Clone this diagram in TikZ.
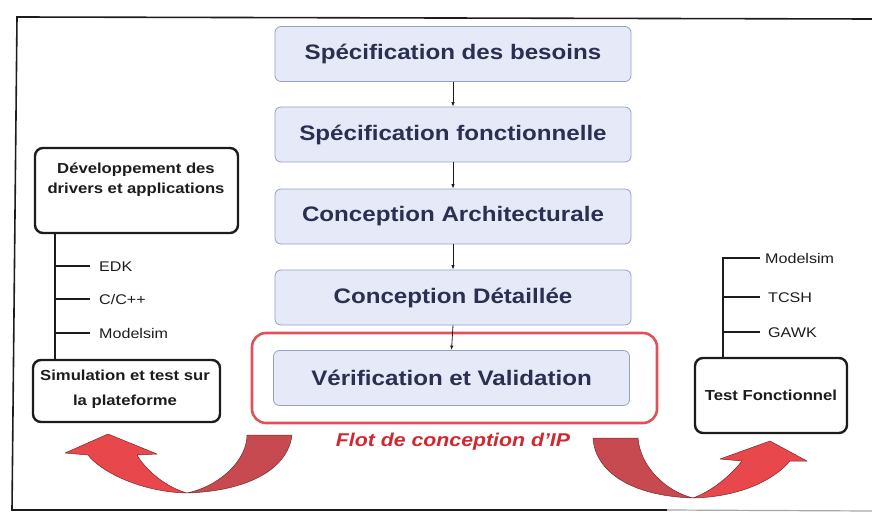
\documentclass[tikz,border=0pt]{standalone}
\usepackage{fontspec}
\setmainfont[FakeStretch=1.15]{Liberation Sans}
\usetikzlibrary{arrows.meta}
\definecolor{boxfill}{HTML}{E6E9F8}
\definecolor{boxline}{HTML}{96A0C0}
\definecolor{navy}{HTML}{2B3050}
\definecolor{ink}{HTML}{1C1C1C}
\definecolor{redline}{HTML}{E2505A}
\definecolor{redtext}{HTML}{D0282E}
\definecolor{brightred}{HTML}{E8474C}
\definecolor{darkred}{HTML}{C64A50}
\definecolor{arrowedge}{HTML}{7A2A2A}
\tikzset{
  phase/.style={draw=boxline, fill=boxfill, line width=0.8pt, rounded corners=6pt,
    minimum width=356pt, minimum height=55pt, inner sep=0pt, text=navy,
    font=\bfseries\fontsize{21}{24}\selectfont},
  sidebox/.style={draw=ink, line width=2.4pt, rounded corners=8pt, fill=white, inner sep=0pt},
  sidetext/.style={text=ink, align=center, inner sep=0pt},
  tool/.style={anchor=west, text height=10pt, text depth=0pt, inner sep=0pt, text=ink,
    font=\fontsize{14}{16}\selectfont},
  stem/.style={draw=ink, line width=2.2pt},
  flow/.style={-{Latex[length=4.5pt,width=3.5pt]}, line width=0.8pt, draw=ink},
  ribbonlight/.style={fill=brightred, draw=arrowedge, line width=0.5pt, line join=round},
  ribbondark/.style={fill=darkred, draw=arrowedge, line width=0.5pt, line join=round}
}
\begin{document}
\begin{tikzpicture}[x=1pt,y=-1pt]
\useasboundingbox (0,0) rectangle (872,513);
% scanned frame
\draw[ink, line width=1.6pt] (872,19) -- (17,17) -- (12,510) -- (667,510);
\draw[black!35, line width=1.2pt] (667,510) -- (872,511);

% central flow
\node[phase] (p1) at (453,54) {Spécification des besoins};
\node[phase] (p2) at (453,134.5) {Spécification fonctionnelle};
\node[phase] (p3) at (453,216.5) {Conception Architecturale};
\node[phase] (p4) at (453,297.5) {Conception Détaillée};
\node[draw=redline, line width=2.6pt, rounded corners=14pt, minimum width=405pt,
      minimum height=90pt, inner sep=0pt] (redbox) at (454.5,378) {};
\node[phase] (p5) at (451.5,378) {Vérification et Validation};
\draw[flow] (p1.south) -- (p2.north);
\draw[flow] (p2.south) -- (p3.north);
\draw[flow] (p3.south) -- (p4.north);
\draw[flow] (p4.south) -- (p5.north);
\node[text=redtext, font=\bfseries\itshape\fontsize{18.5}{20}\selectfont, inner sep=0pt]
  (flot) at (453,442) {Flot de conception d{\char"0027}IP};

% left side
\node[sidebox, minimum width=203pt, minimum height=85pt] (dev) at (136.5,190.5) {};
\node[sidetext, font=\bfseries\fontsize{14.5}{20}\selectfont] (devtxt) at (136,180)
  {Développement des\\drivers et applications};
\node[sidebox, minimum width=187pt, minimum height=62pt] (sim) at (126.5,391) {};
\node[sidetext, font=\bfseries\fontsize{14.5}{25}\selectfont] (simtxt) at (125,389)
  {Simulation et test sur\\la plateforme};
\coordinate (lstem) at (55,0);
\node[tool] (edk) at (99,266) {EDK};
\node[tool] (cpp) at (99,299) {C/C++};
\node[tool] (msl) at (99,333) {Modelsim};
\draw[stem] (dev.south -| lstem) -- (sim.north -| lstem);
\draw[stem] (edk.west -| lstem) -- ([xshift=-9pt]edk.west);
\draw[stem] (cpp.west -| lstem) -- ([xshift=-9pt]cpp.west);
\draw[stem] (msl.west -| lstem) -- ([xshift=-9pt]msl.west);

% right side
\node[sidebox, minimum width=152pt, minimum height=75pt] (test) at (771,395.5) {};
\node[sidetext, font=\bfseries\fontsize{14.5}{18}\selectfont] (testtxt) at (771,395.5)
  {Test Fonctionnel};
\coordinate (rstem) at (723,0);
\coordinate (rtop) at (723,257);
\node[tool] (msr) at (765,258) {Modelsim};
\node[tool] (tcsh) at (768,297) {TCSH};
\node[tool] (gawk) at (768,332) {GAWK};
\draw[stem] (rtop) -- (test.north -| rstem);
\draw[stem] (msr.west -| rstem) -- (760,258);
\draw[stem] (tcsh.west -| rstem) -- (760,297);
\draw[stem] (gawk.west -| rstem) -- (760,332);

% left curved arrow
\draw[ribbondark] (187,493) .. controls (250,491) and (288,468) .. (292,435)
  -- (247,435) .. controls (247,460) and (220,486) .. cycle;
\draw[ribbonlight] (65,453) -- (108,434) -- (157,454) -- (137,455)
  .. controls (145,469) and (165,487) .. (187,493)
  .. controls (140,492) and (100,471) .. (88,455) -- cycle;

% right curved arrow
\draw[ribbondark] (593,438) -- (638,438) .. controls (640,466) and (665,491) .. (693,498)
  .. controls (630,496) and (595,471) .. cycle;
\draw[ribbonlight] (693,498) .. controls (737,497) and (772,482) .. (790,461)
  -- (807,461) -- (770,441) -- (720,459) -- (742,461)
  .. controls (730,476) and (712,491) .. cycle;
\end{tikzpicture}
\end{document}
